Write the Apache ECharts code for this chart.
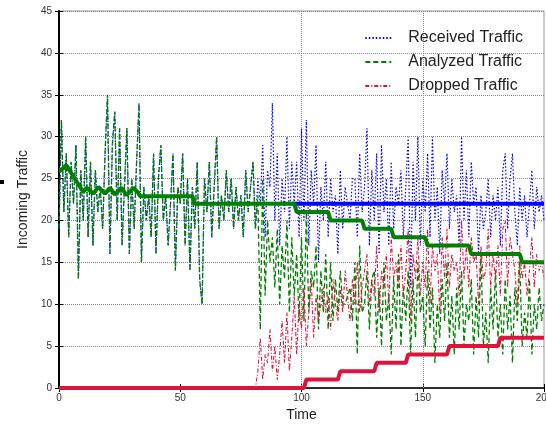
<!DOCTYPE html>
<html>
<head>
<meta charset="utf-8">
<script src="https://cdn.jsdelivr.net/npm/echarts@6/dist/echarts.min.js"></script>
<style>
  html, body { margin: 0; padding: 0; background: #fff; }
  #chart { width: 546px; height: 424px; }
</style>
</head>
<body>
<div id="chart"></div>
<script>
// per-tick traffic, index = time step
const receivedTraffic = [
  19, 32, 21, 28, 18, 27, 22, 29, 13, 26,
  20, 30, 18, 27, 17, 26, 21, 24, 19, 28,
  35, 16, 29, 33, 20, 31, 17, 24, 31, 16,
  25, 19, 27, 34, 15, 24, 20, 23, 18, 28,
  16, 25, 29, 20, 23, 17, 22, 28, 14, 24,
  22, 28, 17, 25, 14, 24, 19, 27, 13, 10,
  25, 21, 27, 18, 24, 30, 19, 23, 20, 26,
  21, 25, 19, 24, 20, 23, 18, 26, 21, 24,
  27, 19, 25, 22, 29, 18, 26, 24, 34, 20,
  28, 17, 25, 21, 30, 19, 27, 22, 27, 18,
  31, 20, 32, 17, 26, 22, 29, 15, 24, 20,
  27, 18, 25, 21, 23, 16, 26, 19, 24, 22,
  20, 25, 25, 18, 28, 21, 24, 31, 17, 26,
  20, 28, 16, 29, 21, 25, 17, 27, 19, 24,
  22, 26, 18, 24, 30, 12, 27, 20, 30, 17,
  25, 21, 28, 18, 30, 20, 24, 16, 26, 22,
  28, 19, 25, 21, 23, 17, 30, 20, 26, 18,
  27, 22, 24, 16, 23, 19, 21, 25, 18, 23,
  20, 24, 17, 26, 28, 19, 25, 28, 21, 17,
  24, 20, 23, 18, 22, 26, 19, 24, 21, 23,
  20
];

// analyzed == received until dropping starts
const dropStart = 80;
const analyzedLate = [
  27, 19, 23, 7, 25, 11, 20, 15, 18, 12,
  19, 10, 17, 13, 20, 9, 18, 11, 16, 8,
  18, 8, 21, 9, 14, 12, 17, 7, 14, 9,
  16, 7, 15, 8, 13, 9, 14, 10, 10, 11,
  12, 8, 15, 4, 17, 9, 10, 14, 7, 13,
  14, 6, 12, 5, 15, 8, 11, 4, 13, 7,
  16, 5, 12, 8, 14, 4, 13, 6, 15, 9,
  11, 5, 14, 7, 12, 3, 10, 6, 13, 8,
  15, 6, 11, 4, 12, 7, 14, 5, 10, 8,
  13, 4, 11, 6, 16, 5, 9, 3, 12, 7,
  14, 6, 10, 4, 13, 7, 11, 3, 12, 8,
  15, 5, 9, 6, 13, 4, 10, 7, 12, 8,
  10
];
const analyzedTraffic = receivedTraffic.slice(0, dropStart).concat(analyzedLate);

const droppedLate = [
  0, 0, 2, 6, 1, 4, 3, 7, 2, 5,
  1, 4, 8, 3, 9, 2, 6, 11, 4, 10,
  7, 12, 5, 9, 13, 6, 11, 8, 10, 12,
  9, 11, 7, 13, 10, 8, 12, 9, 14, 11,
  8, 13, 10, 15, 9, 12, 14, 16, 10, 13,
  11, 17, 9, 14, 12, 16, 10, 18, 13, 15,
  12, 17, 11, 14, 19, 8, 16, 13, 18, 11,
  15, 12, 19, 10, 17, 14, 16, 9, 18, 13,
  19, 12, 16, 14, 15, 11, 20, 13, 17, 12,
  18, 15, 16, 10, 17, 13, 14, 19, 12, 16,
  13, 17, 11, 19, 20, 12, 18, 16, 14, 10,
  17, 13, 15, 11, 14, 18, 12, 16, 14, 15,
  13
];

// running averages [time, value]
const receivedAvg = [[96, 22], [200, 22]];
const analyzedAvg = [
  [0, 26], [1, 26], [3, 26.6], [10, 23.4], [11.4, 23.9], [14.2, 23.2], [16.2, 24],
  [19, 23.2], [21, 23.9], [23, 23.1], [25.8, 23.9], [27.9, 23], [30.6, 23.9],
  [32.7, 23.3], [33.4, 22.9], [55, 22.9], [56, 22], [97, 22], [98, 21],
  [111, 21], [112, 20], [125, 20], [126, 19], [137, 19], [138, 18],
  [151, 18], [152, 17], [169, 17], [170, 16], [190, 16], [191, 15], [200, 15]
];
const droppedAvg = [
  [0, 0], [101, 0], [102, 1], [115, 1], [116, 2], [130, 2], [131, 3],
  [143, 3], [144, 4], [160, 4], [161, 5], [181, 5], [182, 6], [200, 6]
];

// only these vertical grid lines show in the original
const xGridAt = [100, 150];

const BLUE = '#0000ff';
const GREEN = '#008000';
const RED = '#dc143c';
const NARROW = "'Liberation Sans Narrow', 'Liberation Sans', Arial, sans-serif";
const SANS = "Arial, 'Liberation Sans', sans-serif";

const chart = echarts.init(document.getElementById('chart'));

const axisText = { color: '#333', fontSize: 10, fontFamily: NARROW };
const dotted = { color: '#888', type: 'dotted', width: 1 };
const innerTick = { show: true, inside: true, length: 4, lineStyle: { color: '#000' } };

chart.setOption({
  animation: false,
  backgroundColor: '#fff',
  grid: {
    left: 59, right: 2, top: 11, bottom: 36,
    outerBoundsMode: 'none', containLabel: false,
    show: true, borderColor: '#999', borderWidth: 1
  },
  legend: {
    data: ['Received Traffic', 'Analyzed Traffic', 'Dropped Traffic'],
    orient: 'vertical',
    right: 18,
    top: 25,
    itemWidth: 26,
    itemHeight: 14,
    itemGap: 8,
    itemStyle: { opacity: 0 },
    textStyle: { color: '#222', fontSize: 16, lineHeight: 16, fontFamily: SANS, padding: [0, 0, 0, 12] }
  },
  xAxis: [
    {
      type: 'value', min: 0, max: 200, interval: 50,
      name: 'Time', nameLocation: 'middle', nameGap: 20,
      nameTextStyle: { color: '#222', fontSize: 14, fontFamily: SANS },
      axisLine: { show: true, lineStyle: { color: '#000', width: 1.5 } },
      axisTick: innerTick,
      axisLabel: Object.assign({ margin: 5 }, axisText),
      splitLine: { show: false }
    },
    {
      type: 'value', min: 0, max: 200, interval: 50, position: 'top',
      axisLine: { show: false }, axisTick: innerTick,
      axisLabel: { show: false }, splitLine: { show: false }
    }
  ],
  yAxis: [
    {
      type: 'value', min: 0, max: 45, interval: 5,
      name: 'Incoming Traffic', nameLocation: 'middle', nameGap: 15,
      nameTextStyle: { color: '#222', fontSize: 14, fontFamily: SANS },
      axisLine: { show: true, lineStyle: { color: '#000', width: 2 } },
      axisTick: innerTick,
      axisLabel: Object.assign({ margin: 7 }, axisText),
      splitLine: { show: true, lineStyle: dotted }
    },
    {
      type: 'value', min: 0, max: 45, interval: 5, position: 'right',
      axisLine: { show: false }, axisTick: innerTick,
      axisLabel: { show: false }, splitLine: { show: false }
    }
  ],
  graphic: [
    { type: 'rect', left: 0, top: 180, shape: { width: 4, height: 4 }, style: { fill: '#000' } }
  ],
  series: [
    {
      name: 'Received Traffic', type: 'line', symbol: 'none', z: 2,
      data: receivedTraffic.map((v, i) => [i, v]),
      lineStyle: { color: BLUE, width: 1.2, type: [1.5, 2] },
      itemStyle: { color: BLUE },
      markLine: {
        silent: true, symbol: 'none', z: 1, label: { show: false },
        lineStyle: dotted,
        data: xGridAt.map((x) => ({ xAxis: x }))
      }
    },
    {
      name: 'Analyzed Traffic', type: 'line', symbol: 'none', z: 3,
      data: analyzedTraffic.map((v, i) => [i, v]),
      lineStyle: { color: GREEN, width: 1.3, type: [5, 3] },
      itemStyle: { color: GREEN }
    },
    {
      name: 'Dropped Traffic', type: 'line', symbol: 'none', z: 4,
      data: droppedLate.map((v, i) => [i + dropStart, v]),
      lineStyle: { color: RED, width: 1.1, type: [4, 2, 1, 2] },
      itemStyle: { color: RED }
    },
    {
      name: 'received avg', type: 'line', symbol: 'none', z: 5,
      data: receivedAvg,
      lineStyle: { color: BLUE, width: 4 }
    },
    {
      name: 'analyzed avg', type: 'line', symbol: 'none', z: 6,
      data: analyzedAvg,
      lineStyle: { color: GREEN, width: 4 }
    },
    {
      name: 'dropped avg', type: 'line', symbol: 'none', z: 7,
      data: droppedAvg,
      lineStyle: { color: RED, width: 4 }
    }
  ]
});
</script>
</body>
</html>
